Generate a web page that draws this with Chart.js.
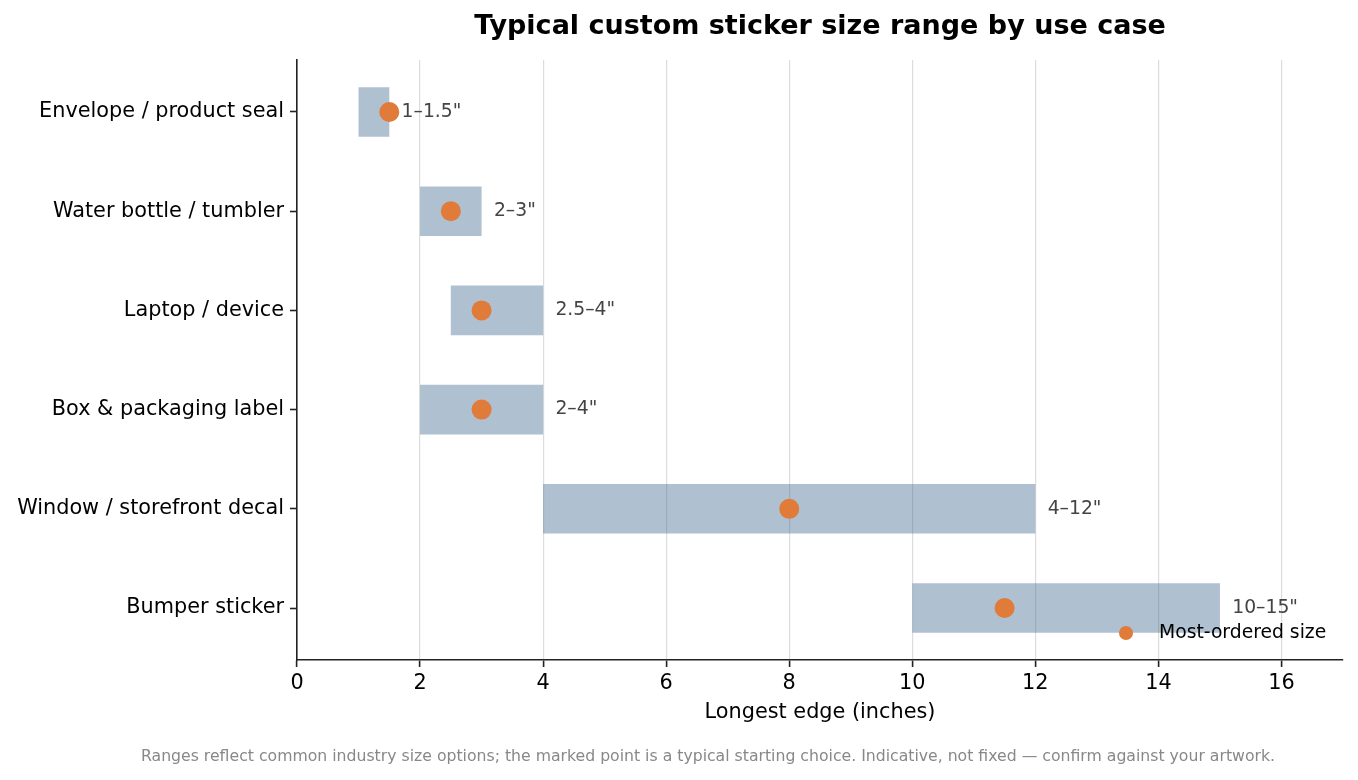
<!DOCTYPE html>
<html>
<head>
<meta charset="utf-8">
<title>Typical custom sticker size range by use case</title>
<script src="https://cdn.jsdelivr.net/npm/chart.js@4.4.1/dist/chart.umd.min.js"></script>
<style>
  html, body { margin: 0; padding: 0; background: #fff; }
  #wrap { width: 1358px; height: 780px; }
</style>
</head>
<body>
<div id="wrap"><canvas id="chart" width="1358" height="780"></canvas></div>
<script>
// data, top row first
const categories = [
  'Envelope / product seal',
  'Water bottle / tumbler',
  'Laptop / device',
  'Box & packaging label',
  'Window / storefront decal',
  'Bumper sticker'
];
const minSize = [1, 2, 2.5, 2, 4, 10];
const maxSize = [1.5, 3, 4, 4, 12, 15];
const typicalSize = [1.5, 2.5, 3, 3, 8, 11.5];
const rangeLabels = ['1–1.5"', '2–3"', '2.5–4"', '2–4"', '4–12"', '10–15"'];
const xTicks = [0, 2, 4, 6, 8, 10, 12, 14, 16];

const FONT = 'DejaVu Sans';
const ORANGE = '#e07b39';
const INK = '#222';
const YPAD = 0.524; // matplotlib-like margin around the rows

// labels, legend, title and footnote drawn straight on the canvas
const decor = {
  id: 'decor',
  afterDatasetsDraw(chart){
    const {ctx, chartArea: a, scales: {x, y}} = chart;
    ctx.save();
    // range labels right of each bar
    ctx.font = `18.75px "${FONT}"`;
    ctx.fillStyle = '#444';
    ctx.textAlign = 'left';
    ctx.textBaseline = 'middle';
    rangeLabels.forEach((t, i) => {
      ctx.fillText(t, x.getPixelForValue(maxSize[i] + 0.2), y.getPixelForValue(i));
    });
    // legend, lower right inside the plot
    const ly = a.bottom - 27;
    ctx.fillStyle = ORANGE;
    ctx.beginPath();
    ctx.arc(a.right - 217, ly, 7, 0, Math.PI * 2);
    ctx.fill();
    ctx.fillStyle = '#000';
    ctx.fillText('Most-ordered size', a.right - 184, ly);
    ctx.restore();
  },
  afterDraw(chart){
    const {ctx, chartArea: a} = chart;
    const cx = (a.left + a.right) / 2;
    ctx.save();
    ctx.textAlign = 'center';
    ctx.textBaseline = 'middle';
    ctx.fillStyle = '#000';
    ctx.font = `bold 27px "${FONT}"`;
    ctx.fillText('Typical custom sticker size range by use case', cx, 27);
    ctx.font = `20.8px "${FONT}"`;
    ctx.fillText('Longest edge (inches)', cx, a.bottom + 53);
    ctx.font = `15.7px "${FONT}"`;
    ctx.fillStyle = '#888';
    ctx.fillText('Ranges reflect common industry size options; the marked point is a typical starting choice. Indicative, not fixed — confirm against your artwork.', 708, 757);
    ctx.restore();
  }
};

Chart.defaults.font.family = FONT;
Chart.defaults.font.size = 20.8;
Chart.defaults.color = '#000';

new Chart(document.getElementById('chart'), {
  type: 'bar',
  data: {
    datasets: [
      {
        type: 'scatter',
        label: 'Most-ordered size',
        data: typicalSize.map((v, i) => ({x: v, y: i})),
        backgroundColor: ORANGE,
        borderColor: ORANGE,
        pointRadius: 10,
        pointHoverRadius: 10,
        borderWidth: 0,
        order: 0
      },
      {
        label: 'Range',
        data: minSize.map((v, i) => ({x: [v, maxSize[i]], y: i})),
        backgroundColor: 'rgba(70,110,145,0.43)',
        borderWidth: 0,
        borderSkipped: false,
        barPercentage: 0.5,
        categoryPercentage: 1.0,
        order: 1
      }
    ]
  },
  options: {
    indexAxis: 'y',
    responsive: false,
    animation: false,
    devicePixelRatio: 1,
    layout: { padding: { left: 0, right: 15, top: 60, bottom: 0 } },
    plugins: {
      legend: { display: false },
      title: { display: false },
      tooltip: { enabled: false }
    },
    scales: {
      x: {
        type: 'linear',
        min: 0,
        max: 17,
        afterBuildTicks: s => { s.ticks = xTicks.map(v => ({value: v})); },
        afterFit: s => { s.height = 120; },
        ticks: { padding: 4, color: '#000' },
        grid: { color: '#dcdcdc', lineWidth: 1.2, tickColor: INK, tickLength: 7, tickWidth: 1.6 },
        border: { color: INK, width: 1.6 }
      },
      y: {
        type: 'linear',
        reverse: true,
        offset: false,
        min: -YPAD,
        max: categories.length - 1 + YPAD,
        afterBuildTicks: s => { s.ticks = categories.map((c, i) => ({value: i})); },
        afterFit: s => { s.width = 297; },
        ticks: { padding: 6, color: '#000', callback: v => categories[v] },
        grid: { offset: false, drawOnChartArea: false, tickColor: INK, tickLength: 7, tickWidth: 1.6 },
        border: { color: INK, width: 1.6 }
      }
    }
  },
  plugins: [decor]
});
</script>
</body>
</html>
